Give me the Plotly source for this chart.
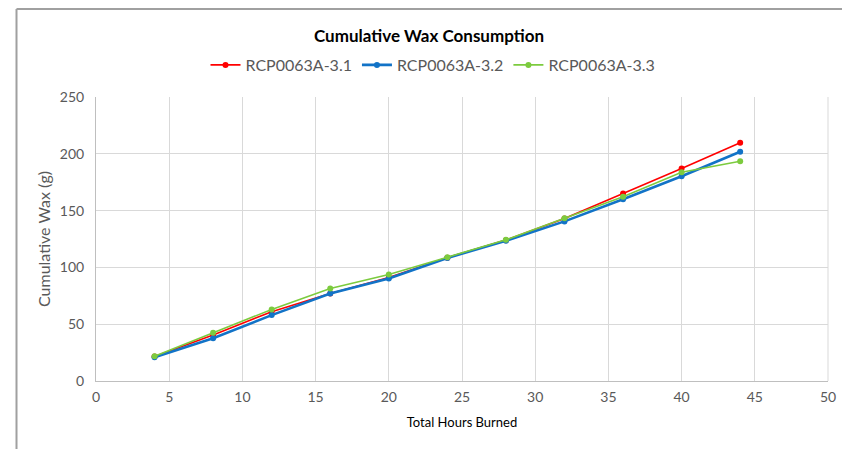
import plotly.graph_objects as go

hours = [4, 8, 12, 16, 20, 24, 28, 32, 36, 40, 44]
series_names = ["RCP0063A-3.1", "RCP0063A-3.2", "RCP0063A-3.3"]
wax_31 = [21.5, 40.5, 61, 77, 91, 108.5, 124, 143, 165, 187, 209.8]
wax_32 = [21, 37.6, 58, 77, 90.2, 108.3, 123.5, 140.5, 160, 180.2, 201.8]
wax_33 = [21.8, 42.5, 63, 81.5, 93.8, 109, 124.3, 143.2, 162.2, 183.7, 193.5]
colors = ["#FF0000", "#1273C7", "#7CCB3E"]
widths = [1.6, 2.6, 1.6]

fig = go.Figure()
for name, vals, c, w in zip(series_names, [wax_31, wax_32, wax_33], colors, widths):
    fig.add_trace(go.Scatter(
        x=hours, y=vals, name=name, mode="lines+markers",
        line=dict(color=c, width=w), marker=dict(color=c, size=6),
    ))

# page offset of the figure in the browser (body margin)
OX, OY = 8, 8
W, H = 842, 441
L = 96 - OX
T = 97 - OY
R = W - (828 - OX)
B = H - (381 - OY)
pw, ph = W - L - R, H - T - B

def px(x):
    return (x - OX - L) / pw

def py(y):
    return (H - B - (y - OY)) / ph

fig.update_layout(
    width=W, height=H,
    margin=dict(l=L, r=R, t=T, b=B, autoexpand=False),
    paper_bgcolor="white", plot_bgcolor="white",
    font=dict(family="Lato, Open Sans, sans-serif", color="#595959"),
    title=dict(text="<b>Cumulative Wax Consumption</b>", x=(429 - OX) / W, xanchor="center",
               xref="container", y=1 - (36 - OY) / H, yanchor="middle",
               font=dict(size=17, color="#000000", family="Lato, Open Sans, sans-serif")),
    legend=dict(orientation="h", x=(433 - OX) / W, xanchor="center", xref="container",
                y=1 - (65 - OY) / H, yref="container",
                yanchor="middle", font=dict(size=16, color="#595959"),
                bgcolor="rgba(0,0,0,0)"),
    xaxis=dict(range=[0, 50], tick0=0, dtick=5, showgrid=True, gridcolor="#D9D9D9",
               gridwidth=1, zeroline=False, showline=True, linecolor="#BFBFBF",
               ticks="outside", ticklen=3, tickcolor="white",
               tickfont=dict(size=14, color="#595959"),
               title=dict(text="Total Hours Burned", font=dict(size=13, color="#000000"), standoff=14),
               mirror=False),
    yaxis=dict(range=[0, 250], tick0=0, dtick=50, showgrid=True, gridcolor="#D9D9D9",
               gridwidth=1, zeroline=False, showline=True, linecolor="#BFBFBF",
               ticks="outside", ticklen=8, tickcolor="white",
               tickfont=dict(size=14, color="#595959"),
               title=dict(text="Cumulative Wax (g)", font=dict(size=16, color="#595959"), standoff=5)),
    showlegend=True,
)
# right border of plot area (light)
fig.add_shape(type="line", xref="paper", yref="paper", x0=1, x1=1, y0=0, y1=1,
              line=dict(color="#D9D9D9", width=1))
# outer frame of the chart (screenshot edge)
fig.add_shape(type="line", xref="paper", yref="paper", x0=px(16.5), x1=px(860), y0=py(OY + 1), y1=py(OY + 1),
              line=dict(color="#A0A0A0", width=2))
fig.add_shape(type="line", xref="paper", yref="paper", x0=px(16.5), x1=px(16.5), y0=py(OY + 1), y1=py(460),
              line=dict(color="#A0A0A0", width=2))

fig.write_html("out.html")
